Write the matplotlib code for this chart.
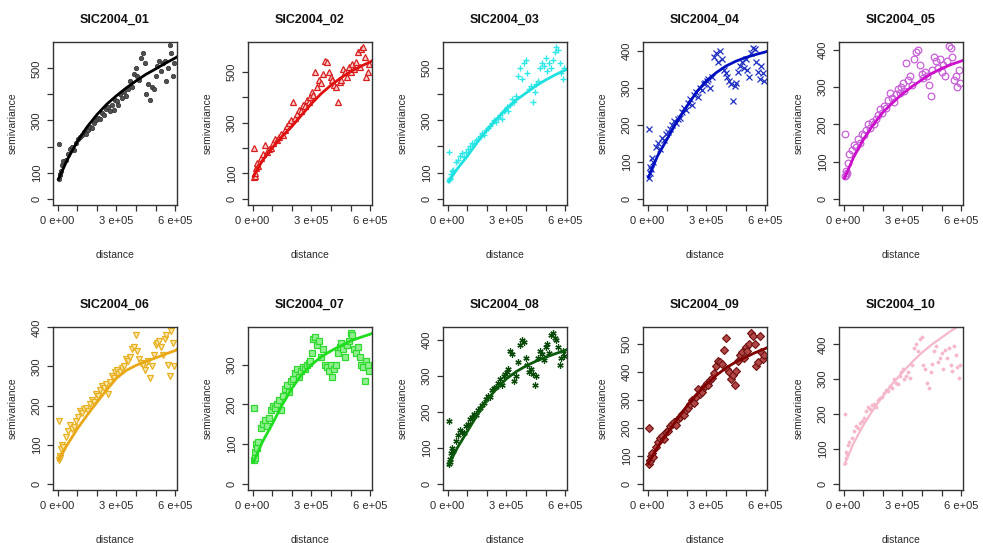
import numpy as np
import matplotlib
matplotlib.use("Agg")
import matplotlib.pyplot as plt

plt.rcParams['font.family'] = ['Liberation Sans', 'DejaVu Sans']

# lag distances (units of 1e5), shared by all ten variograms
dist = [0.05, 0.08, 0.12, 0.15, 0.2, 0.25, 0.3, 0.45, 0.55, 0.65, 0.75, 0.85, 0.95,
        1.05, 1.15, 1.25, 1.35, 1.45, 1.55, 1.65, 1.75, 1.85, 1.95,
        2.05, 2.15, 2.25, 2.35, 2.45, 2.55, 2.65, 2.75, 2.85, 2.95,
        3.05, 3.1, 3.2, 3.3, 3.4, 3.5, 3.6, 3.7, 3.8, 3.9,
        4.0, 4.05, 4.15, 4.25, 4.35, 4.45, 4.5, 4.6, 4.7, 4.8, 4.9,
        5.0, 5.05, 5.15, 5.25, 5.35, 5.45, 5.5, 5.6, 5.7, 5.8, 5.9, 5.95]

gamma_01 = [210, 75, 90, 95, 105, 130, 145, 150, 170, 190, 200, 185, 215,
            230, 235, 245, 255, 250, 265, 275, 270, 290, 300,
            310, 305, 330, 320, 345, 350, 335, 360, 340, 380,
            375, 360, 400, 385, 410, 395, 420, 450, 430, 480,
            500, 470, 455, 540, 560, 520, 400, 440, 380, 430, 420,
            470, 510, 530, 490, 520, 530, 450, 500, 590, 560, 470, 520]
gamma_02 = [200, 85, 90, 100, 120, 140, 130, 160, 175, 210, 185, 195, 200,
            220, 235, 230, 245, 255, 250, 270, 285, 300, 310,
            380, 320, 335, 350, 345, 370, 365, 390, 380, 400,
            420, 410, 500, 440, 470, 455, 490, 545, 540, 500,
            480, 470, 450, 440, 380, 460, 470, 510, 500, 480, 520,
            500, 530, 510, 540, 580, 520, 590, 600, 560, 480, 500, 530]
gamma_03 = [180, 70, 75, 80, 95, 105, 110, 140, 150, 165, 175, 160, 180,
            190, 200, 215, 210, 225, 230, 240, 250, 245, 265,
            270, 280, 290, 300, 295, 310, 320, 305, 335, 340,
            350, 335, 360, 380, 370, 395, 470, 500, 460, 520,
            530, 480, 420, 430, 370, 410, 440, 450, 500, 520, 510,
            540, 490, 520, 500, 530, 560, 580, 570, 520, 480, 460, 500]
gamma_04 = [190, 55, 70, 85, 80, 110, 100, 140, 150, 135, 165, 160, 175,
            180, 190, 200, 210, 205, 215, 220, 235, 245, 240,
            260, 270, 255, 280, 290, 275, 300, 295, 310, 315,
            320, 325, 300, 330, 385, 395, 370, 400, 380, 350,
            340, 330, 320, 310, 265, 305, 315, 345, 360, 370, 355,
            380, 350, 330, 395, 410, 405, 370, 345, 325, 360, 340, 320]
gamma_05 = [175, 60, 65, 75, 70, 95, 120, 130, 145, 140, 160, 150, 175,
            170, 185, 200, 190, 205, 200, 215, 225, 240, 230,
            250, 245, 265, 285, 270, 260, 280, 295, 285, 300,
            310, 290, 365, 320, 330, 305, 375, 395, 400, 360,
            335, 325, 340, 330, 305, 275, 345, 380, 370, 350, 375,
            340, 360, 330, 370, 410, 405, 380, 320, 330, 300, 345, 310]
gamma_06 = [160, 60, 70, 65, 90, 100, 95, 120, 135, 150, 140, 145, 160,
            170, 185, 180, 190, 195, 185, 205, 215, 210, 230,
            225, 240, 250, 245, 255, 230, 260, 275, 270, 285,
            290, 280, 285, 295, 300, 320, 315, 325, 345, 350,
            380, 340, 320, 310, 305, 290, 310, 315, 270, 300, 330,
            355, 360, 365, 350, 330, 370, 380, 305, 275, 390, 360, 300]
gamma_07 = [190, 60, 80, 65, 100, 90, 105, 140, 150, 160, 145, 165, 185,
            195, 190, 200, 210, 185, 220, 240, 250, 230, 260,
            265, 280, 290, 270, 285, 295, 290, 300, 305, 310,
            330, 365, 370, 350, 360, 320, 340, 300, 295, 285,
            300, 270, 290, 300, 330, 345, 355, 340, 320, 350, 360,
            380, 375, 340, 330, 345, 320, 300, 295, 260, 310, 300, 285]
gamma_08 = [175, 55, 70, 60, 85, 100, 90, 120, 135, 150, 145, 140, 160,
            165, 180, 185, 195, 190, 205, 210, 220, 225, 235,
            245, 240, 260, 265, 270, 280, 290, 275, 300, 305,
            310, 320, 370, 360, 285, 300, 340, 385, 400, 395,
            350, 330, 310, 320, 305, 275, 300, 350, 370, 360, 345,
            380, 390, 365, 415, 420, 405, 400, 380, 330, 350, 370, 355]
gamma_09 = [200, 70, 85, 80, 100, 110, 95, 130, 150, 165, 170, 160, 185,
            190, 205, 215, 220, 210, 230, 240, 250, 245, 265,
            270, 285, 300, 290, 310, 340, 320, 330, 345, 350,
            360, 355, 370, 380, 395, 420, 440, 435, 430, 480,
            520, 410, 400, 375, 390, 355, 405, 440, 460, 470, 450,
            490, 475, 500, 540, 530, 500, 420, 435, 530, 470, 445, 460]
gamma_10 = [200, 60, 75, 90, 85, 110, 120, 130, 150, 165, 160, 175, 180,
            190, 210, 220, 215, 225, 230, 220, 240, 245, 250,
            260, 270, 265, 280, 275, 300, 290, 285, 310, 320,
            330, 300, 310, 320, 305, 340, 390, 400, 380, 415,
            420, 340, 330, 290, 275, 320, 345, 380, 395, 350, 360,
            375, 330, 385, 360, 390, 340, 325, 395, 370, 335, 305, 340]

# fitted model lines, read at these distances (units of 1e5)
curve_dist = [0.05, 0.5, 1, 1.5, 2, 2.5, 3, 3.5, 4, 4.5, 5, 5.5, 6, 6.1]
curve_01 = [75, 150, 218, 275, 322, 362, 395, 425, 452, 477, 498, 520, 540, 545]
curve_02 = [88, 150, 200, 245, 285, 330, 375, 415, 448, 477, 502, 522, 540, 545]
curve_03 = [65, 115, 162, 215, 262, 305, 345, 378, 405, 432, 455, 475, 493, 497]
curve_04 = [58, 115, 162, 210, 250, 290, 320, 342, 360, 373, 383, 391, 398, 400]
curve_05 = [55, 110, 158, 198, 232, 258, 282, 302, 320, 337, 350, 361, 370, 372]
curve_06 = [60, 100, 140, 175, 208, 240, 270, 290, 303, 313, 322, 332, 341, 345]
curve_07 = [55, 105, 150, 198, 240, 275, 300, 320, 335, 348, 360, 369, 377, 380]
curve_08 = [52, 100, 145, 190, 232, 265, 292, 312, 328, 341, 352, 362, 371, 374]
curve_09 = [72, 130, 180, 230, 278, 320, 356, 388, 415, 436, 453, 470, 484, 488]
curve_10 = [55, 115, 167, 212, 252, 288, 320, 350, 377, 400, 420, 440, 458, 462]

titles = ["SIC2004_01", "SIC2004_02", "SIC2004_03", "SIC2004_04", "SIC2004_05",
          "SIC2004_06", "SIC2004_07", "SIC2004_08", "SIC2004_09", "SIC2004_10"]
gammas = [gamma_01, gamma_02, gamma_03, gamma_04, gamma_05,
          gamma_06, gamma_07, gamma_08, gamma_09, gamma_10]
curves = [curve_01, curve_02, curve_03, curve_04, curve_05,
          curve_06, curve_07, curve_08, curve_09, curve_10]
ytops = [601, 618, 600, 425, 421, 401, 395, 436, 561, 450]
ymax_tick = [500, 500, 500, 400, 400, 400, 300, 400, 500, 400]
skip_labels = [True, True, True, False, False, False, False, False, False, False]

line_colors = ["#000000", "#E01010", "#20E0E0", "#0010C0", "#CC10CC",
               "#E8A817", "#20DD20", "#0A5A0A", "#800000", "#F5B8CA"]
markers = [
    dict(marker="o", color="#505050", ms=3.2, mec="#303030", mew=0.5),
    dict(marker="^", color="none", ms=4.5, mec="#D82020", mew=0.9, mfc="#F8D0D0"),
    dict(marker="+", color="#30E8E8", ms=4.5, mew=1.0),
    dict(marker="x", color="#2030C0", ms=3.8, mew=0.9),
    dict(marker="o", color="none", ms=4.8, mec="#C860D8", mew=0.9, mfc="none"),
    dict(marker="v", color="none", ms=4.8, mec="#E8B020", mew=0.9, mfc="#F8E8B0"),
    dict(marker="s", color="none", ms=4.2, mec="#30D830", mew=0.9, mfc="#90F090"),
    dict(marker=(6, 2, 0), color="#0A4A0A", ms=4.5, mew=0.9),
    dict(marker="D", color="none", ms=3.8, mec="#701010", mew=0.8, mfc="#B04848"),
    dict(marker="o", color="#F5B8CA", ms=2.4, mec="#F5B8CA", mew=0.3),
]

lefts = [53, 248, 443, 643, 839]
tops = [42, 327]
W, H = 983, 543
axw, axh = 124, 163

fig = plt.figure(figsize=(W / 100, H / 100), dpi=100)
txt = "#2a2a2a"
d = np.array(dist) * 1e5
cd = np.array(curve_dist) * 1e5

for i in range(10):
    r, c = divmod(i, 5)
    ax = fig.add_axes([lefts[c] / W, 1 - (tops[r] + axh) / H, axw / W, axh / H])
    ax.plot(d, gammas[i], linestyle="none", **markers[i])
    lw = 1.6 if i == 9 else 2.0
    ax.plot(cd, curves[i], color=line_colors[i], lw=lw)
    ax.set_xlim(-0.23e5, 6.08e5)
    ytop = ytops[i]
    ax.set_ylim(-0.04 * ytop, ytop)

    ax.set_xticks(np.arange(0, 7) * 1e5)
    ax.set_xticklabels(["0 e+00", "", "", "3 e+05", "", "", "6 e+05"])
    yt = np.arange(0, ymax_tick[i] + 1, 100)
    ax.set_yticks(yt)
    if skip_labels[i]:
        ax.set_yticklabels([str(v) if v in (0, 100, 300, 500) else "" for v in yt])
    else:
        ax.set_yticklabels([str(v) for v in yt])
    for lab in ax.get_yticklabels():
        lab.set_rotation(90)
        lab.set_va("center")

    ax.tick_params(direction="out", length=4, width=0.9, colors="#333333",
                   labelsize=8, labelcolor=txt, pad=4)
    for s in ax.spines.values():
        s.set_color("#333333")
        s.set_linewidth(1.0)
    ax.set_xlabel("distance", fontsize=7.5, color=txt, labelpad=17)
    ax.set_ylabel("semivariance", fontsize=7.5, color=txt, labelpad=10)
    ax.set_title(titles[i], fontsize=9, fontweight="bold", color="#111111", pad=14)

fig.savefig("out.png", dpi=100)
